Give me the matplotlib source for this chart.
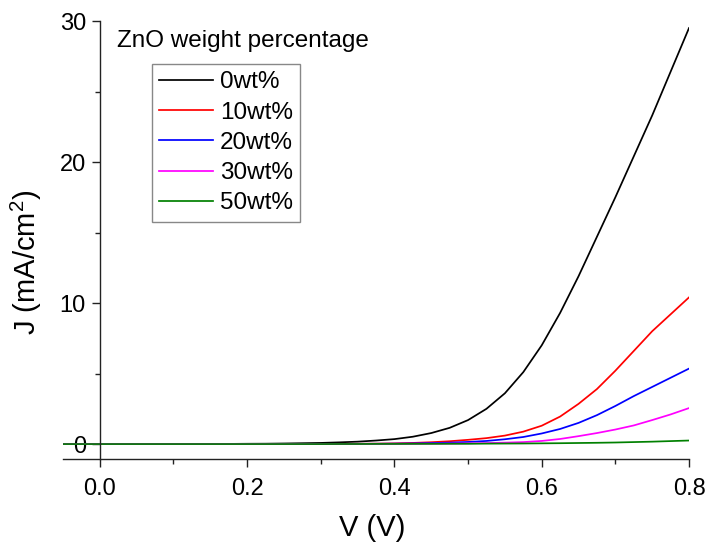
import matplotlib
matplotlib.use("Agg")
import matplotlib.pyplot as plt
from matplotlib.ticker import MultipleLocator, FormatStrFormatter

plt.rcParams["font.family"] = ["Liberation Sans", "DejaVu Sans"]
plt.rcParams["mathtext.fontset"] = "custom"
plt.rcParams["mathtext.rm"] = "Liberation Sans"
plt.rcParams["mathtext.it"] = "Liberation Sans:italic"

# Applied bias (V)
voltage = [-0.05, -0.025, 0.0, 0.025, 0.05, 0.075, 0.1, 0.125, 0.15, 0.175,
           0.2, 0.225, 0.25, 0.275, 0.3, 0.325, 0.35, 0.375, 0.4, 0.425,
           0.45, 0.475, 0.5, 0.525, 0.55, 0.575, 0.6, 0.625, 0.65, 0.675,
           0.7, 0.725, 0.75, 0.775, 0.8]

# Current density (mA/cm^2) for each ZnO loading
j_0wt = [0, 0, 0, 0, 0, 0, 0, 0.005, 0.01, 0.01,
         0.02, 0.025, 0.04, 0.06, 0.08, 0.12, 0.17, 0.25, 0.35, 0.52,
         0.78, 1.15, 1.7, 2.5, 3.6, 5.1, 7.0, 9.3, 11.9, 14.7,
         17.5, 20.4, 23.3, 26.4, 29.5]
j_10wt = [0, 0, 0, 0, 0, 0, 0, 0, 0, 0,
          0, 0, 0, 0.01, 0.01, 0.015, 0.02, 0.03, 0.05, 0.08,
          0.13, 0.2, 0.3, 0.42, 0.6, 0.88, 1.3, 1.95, 2.85, 3.9,
          5.2, 6.6, 8.0, 9.2, 10.4]
j_20wt = [0, 0, 0, 0, 0, 0, 0, 0, 0, 0,
          0, 0, 0, 0.005, 0.01, 0.012, 0.015, 0.02, 0.03, 0.045,
          0.07, 0.1, 0.15, 0.22, 0.34, 0.5, 0.75, 1.07, 1.5, 2.05,
          2.7, 3.4, 4.05, 4.7, 5.35]
j_30wt = [0, 0, 0, 0, 0, 0, 0, 0, 0, 0,
          0, 0, 0, 0, 0.005, 0.005, 0.01, 0.01, 0.015, 0.02,
          0.025, 0.035, 0.05, 0.07, 0.1, 0.14, 0.22, 0.36, 0.56, 0.78,
          1.03, 1.32, 1.7, 2.1, 2.55]
j_50wt = [0, 0, 0, 0, 0, 0, 0, 0, 0, 0,
          0, 0, 0, 0, 0, 0.005, 0.005, 0.01, 0.01, 0.015,
          0.015, 0.02, 0.02, 0.03, 0.035, 0.04, 0.05, 0.06, 0.075, 0.09,
          0.11, 0.14, 0.17, 0.21, 0.25]

labels = ["0wt%", "10wt%", "20wt%", "30wt%", "50wt%"]
colors = ["#000000", "#ff0000", "#0000ff", "#ff00ff", "#008000"]
series = [j_0wt, j_10wt, j_20wt, j_30wt, j_50wt]

W, H = 708, 544
fig = plt.figure(figsize=(W / 100, H / 100), dpi=100)
left, right, top, bottom = 63, 689, 21, 459
ax = fig.add_axes([left / W, 1 - bottom / H, (right - left) / W, (bottom - top) / H])

for ys, lab, col in zip(series, labels, colors):
    ax.plot(voltage, ys, color=col, lw=1.25, label=lab)

ax.set_xlim(-0.05, 0.8)
ax.set_ylim(-1.06, 30)

ax.spines["top"].set_visible(False)
ax.spines["right"].set_visible(False)
ax.spines["left"].set_position(("data", 0))
for s in ("left", "bottom"):
    ax.spines[s].set_linewidth(1.0)
    ax.spines[s].set_color("#222222")

ax.xaxis.set_major_locator(MultipleLocator(0.2))
ax.xaxis.set_minor_locator(MultipleLocator(0.1))
ax.yaxis.set_major_locator(MultipleLocator(10))
ax.yaxis.set_minor_locator(MultipleLocator(5))
ax.xaxis.set_major_formatter(FormatStrFormatter("%.1f"))
ax.tick_params(which="major", direction="out", length=6, width=1.0,
               labelsize=17, color="#222222", pad=8)
ax.tick_params(which="minor", direction="out", length=3.5, width=1.0,
               color="#222222")
ax.tick_params(axis="y", which="major", pad=4)

ax.set_xlabel("V (V)", fontsize=21)
ax.set_ylabel(r"J (mA/cm$^2$)", fontsize=21)
ax.xaxis.set_label_coords(0.494, -0.125)
ax.yaxis.set_label_coords(-0.03, 0.45)

fig.text(117 / W, 1 - 41 / H, "ZnO weight percentage", fontsize=17.5,
         ha="left", va="center")

leg = ax.legend(loc="upper left", bbox_to_anchor=(152 / W, 1 - 64 / H),
                bbox_transform=fig.transFigure, fontsize=17.5,
                frameon=True, fancybox=False, shadow=False,
                edgecolor="#888888", framealpha=1.0,
                handlelength=2.2, handletextpad=0.3, labelspacing=0.34,
                borderpad=0.3, borderaxespad=0)
leg.get_frame().set_linewidth(1.0)

fig.savefig("out.png", dpi=100)
